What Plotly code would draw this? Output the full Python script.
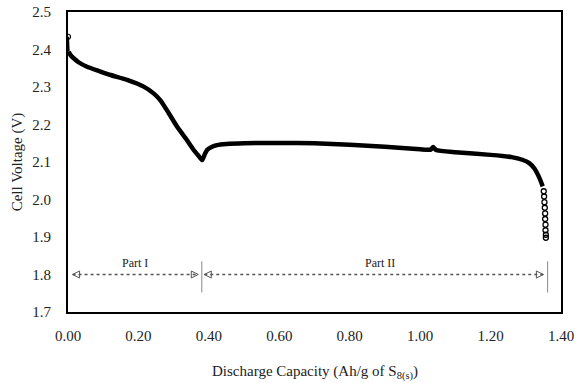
import plotly.graph_objects as go

# Discharge curve of the Li-S cell: capacity (Ah/g of S8) vs cell voltage (V)
capacity = [0.000, 0.002, 0.008, 0.017, 0.030, 0.054, 0.090, 0.121, 0.168, 0.215,
            0.243, 0.262, 0.285, 0.310, 0.335, 0.357, 0.372, 0.381, 0.388, 0.395,
            0.408, 0.423, 0.450, 0.500, 0.600, 0.700, 0.800, 0.900, 1.000, 1.030,
            1.037, 1.045, 1.100, 1.200, 1.260, 1.290, 1.310, 1.325, 1.335, 1.342,
            1.348]
voltage = [2.434, 2.394, 2.384, 2.376, 2.366, 2.354, 2.342, 2.332, 2.319, 2.301,
           2.283, 2.265, 2.232, 2.194, 2.162, 2.132, 2.115, 2.105, 2.120, 2.132,
           2.140, 2.145, 2.148, 2.150, 2.151, 2.150, 2.146, 2.141, 2.134, 2.133,
           2.140, 2.132, 2.126, 2.119, 2.113, 2.106, 2.097, 2.082, 2.065, 2.050,
           2.035]

# Sparse points at the end of discharge
tail_capacity = [1.351, 1.352, 1.353, 1.354, 1.355, 1.355, 1.356, 1.356, 1.357, 1.357]
tail_voltage = [2.022, 2.008, 1.993, 1.978, 1.963, 1.948, 1.933, 1.918, 1.906, 1.898]

# Boundaries of the two discharge regions
part_i_end = 0.380
part_ii_end = 1.362
part_labels = ["Part I", "Part II"]

x_ticks = [0.0, 0.2, 0.4, 0.6, 0.8, 1.0, 1.2, 1.4]
y_ticks = [1.7, 1.8, 1.9, 2.0, 2.1, 2.2, 2.3, 2.4, 2.5]

FONT = "Liberation Serif, Times New Roman, serif"

fig = go.Figure()

fig.add_trace(go.Scatter(
    x=capacity[1:], y=voltage[1:], mode="lines",
    line=dict(color="black", width=4.5, shape="spline", smoothing=0.5),
    showlegend=False, hoverinfo="skip"))

fig.add_trace(go.Scatter(
    x=capacity[:2], y=voltage[:2], mode="lines",
    line=dict(color="black", width=2),
    showlegend=False, hoverinfo="skip"))

fig.add_trace(go.Scatter(
    x=[capacity[0]], y=[voltage[0]], mode="markers",
    marker=dict(symbol="circle-open", size=5, color="black", line=dict(width=1.2)),
    showlegend=False, hoverinfo="skip"))

fig.add_trace(go.Scatter(
    x=tail_capacity, y=tail_voltage, mode="markers",
    marker=dict(symbol="circle-open", size=5, color="black", line=dict(width=1.3)),
    showlegend=False, hoverinfo="skip"))

arrow_y = 1.8
grey = "#555555"
# dotted double-headed arrows for the two parts
for x0, x1 in [(0.013, part_i_end - 0.01), (part_i_end + 0.007, part_ii_end - 0.012)]:
    fig.add_trace(go.Scatter(
        x=[x0, x1], y=[arrow_y, arrow_y], mode="lines",
        line=dict(color=grey, width=1.3, dash="dot"),
        showlegend=False, hoverinfo="skip"))
    fig.add_trace(go.Scatter(
        x=[x0, x1], y=[arrow_y, arrow_y], mode="markers",
        marker=dict(symbol=["arrow-left-open", "arrow-right-open"], size=7,
                    color=grey, line=dict(width=1, color=grey)),
        showlegend=False, hoverinfo="skip"))

for xb in [part_i_end, part_ii_end]:
    fig.add_shape(type="line", x0=xb, x1=xb, y0=1.752, y1=1.835,
                  line=dict(color="#888888", width=1))

fig.add_annotation(x=(0 + part_i_end) / 2, y=1.83, text=part_labels[0], showarrow=False,
                   font=dict(family=FONT, size=12, color="#222222"))
fig.add_annotation(x=0.886, y=1.83, text=part_labels[1], showarrow=False,
                   font=dict(family=FONT, size=12, color="#222222"))

# x-axis title placed below the tick labels
fig.add_annotation(x=0.5, y=0, xref="paper", yref="paper", xanchor="center",
                   yanchor="middle", yshift=-60, showarrow=False,
                   text="Discharge Capacity (Ah/g of S<sub>8(s)</sub>)",
                   font=dict(family=FONT, size=15, color="#222222"))

fig.update_layout(
    width=579, height=383,
    margin=dict(l=68, r=18, t=12, b=71),
    paper_bgcolor="white", plot_bgcolor="white",
    font=dict(family=FONT, size=15, color="#222222"),
    xaxis=dict(range=[0, 1.4], tickvals=x_ticks, tickformat=".2f",
               showgrid=False, zeroline=False, showline=True, mirror=True,
               linecolor="black", linewidth=1.8, ticks="",
               ticklabelstandoff=9, automargin=False),
    yaxis=dict(range=[1.7, 2.5], tickvals=y_ticks, tickformat=".1f",
               showgrid=False, zeroline=False, showline=True, mirror=True,
               linecolor="black", linewidth=1.8, ticks="",
               ticklabelstandoff=12, automargin=False,
               title=dict(text="Cell Voltage (V)", font=dict(family=FONT, size=15),
                          standoff=6)),
)

fig.write_html("out.html")
